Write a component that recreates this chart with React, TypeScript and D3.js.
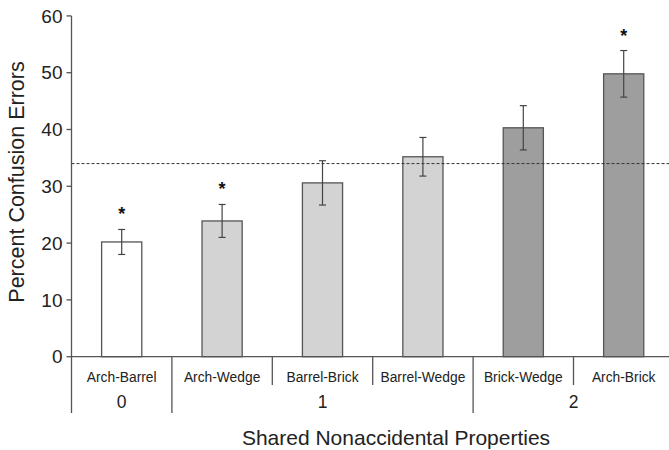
import React from "react";
import * as d3 from "d3";

// Object pairs and their confusion error rates
const categories = ["Arch-Barrel", "Arch-Wedge", "Barrel-Brick", "Barrel-Wedge", "Brick-Wedge", "Arch-Brick"];
const values = [20.2, 23.9, 30.6, 35.2, 40.3, 49.8];
const errors = [2.2, 2.9, 3.9, 3.4, 3.9, 4.1];
const shared = [0, 1, 1, 1, 2, 2];
const significant = [true, true, false, false, false, true];
const chanceLevel = 34;
const yTicks = [0, 10, 20, 30, 40, 50, 60];
const groups = [0, 1, 2];

const W = 669;
const H = 450;
const fillByGroup = ["#ffffff", "#d3d3d3", "#9e9e9e"];
const FONT = "'Liberation Sans', Arial, Helvetica, sans-serif";

export default function App() {
  const left = 71.5;
  const x = d3.scaleBand<string>().domain(categories).range([left, left + 6 * 100.4]).paddingInner(0.6).paddingOuter(0.3);
  const y = d3.scaleLinear().domain([0, 60]).range([356.7, 15.9]);
  const step = x.step();
  const y0 = y(0);
  const shortBottom = 385;
  const longBottom = 413;

  // boundaries between adjacent categories
  const boundaries = categories.slice(1).map((c, i) => ({
    x: (x(c) as number) - (step - x.bandwidth()) / 2,
    long: shared[i] !== shared[i + 1],
  }));

  const groupCenter = (g: number) => {
    const idx = categories.map((_, i) => i).filter((i) => shared[i] === g);
    const start = (x(categories[idx[0]]) as number) - (step - x.bandwidth()) / 2;
    const end = start + idx.length * step;
    return (start + end) / 2;
  };

  return (
    <svg width={W} height={H} style={{ position: "absolute", left: 0, top: 0, background: "#fff" }}>
      {/* y axis */}
      <line x1={left} x2={left} y1={y(60)} y2={longBottom} stroke="#555" strokeWidth={1.3} />
      {yTicks.map((t) => (
        <g key={t}>
          <line x1={left - 5} x2={left} y1={y(t)} y2={y(t)} stroke="#555" strokeWidth={1.3} />
          <text x={left - 9} y={y(t)} dy="0.35em" textAnchor="end" fontFamily={FONT} fontSize={19} fill="#222">
            {t}
          </text>
        </g>
      ))}
      <text
        transform={`translate(24,${182}) rotate(-90)`}
        textAnchor="middle"
        fontFamily={FONT}
        fontSize={21.5}
        fill="#222"
      >
        Percent Confusion Errors
      </text>

      {/* bars */}
      {categories.map((c, i) => (
        <rect
          key={c}
          x={x(c)}
          y={y(values[i])}
          width={x.bandwidth()}
          height={y0 - y(values[i])}
          fill={fillByGroup[shared[i]]}
          stroke="#555"
          strokeWidth={1.3}
        />
      ))}

      {/* chance level */}
      <line x1={left} x2={W} y1={y(chanceLevel)} y2={y(chanceLevel)} stroke="#333" strokeWidth={1} strokeDasharray="3,2" />

      {/* error bars and significance markers */}
      {categories.map((c, i) => {
        const cx = (x(c) as number) + x.bandwidth() / 2;
        const top = y(values[i] + errors[i]);
        const bot = y(values[i] - errors[i]);
        return (
          <g key={c}>
            <line x1={cx} x2={cx} y1={top} y2={bot} stroke="#444" strokeWidth={1.2} />
            <line x1={cx - 3.5} x2={cx + 3.5} y1={top} y2={top} stroke="#444" strokeWidth={1.2} />
            <line x1={cx - 3.5} x2={cx + 3.5} y1={bot} y2={bot} stroke="#444" strokeWidth={1.2} />
            {significant[i] && (
              <text x={cx} y={top - 9} textAnchor="middle" fontFamily={FONT} fontWeight="bold" fontSize={18} fill="#111">
                *
              </text>
            )}
          </g>
        );
      })}

      {/* x axis */}
      <line x1={left} x2={W} y1={y0} y2={y0} stroke="#555" strokeWidth={1.3} />
      {boundaries.map((b, i) => (
        <line key={i} x1={b.x} x2={b.x} y1={y0} y2={b.long ? longBottom : shortBottom} stroke="#555" strokeWidth={1.3} />
      ))}
      {categories.map((c) => (
        <text
          key={c}
          x={(x(c) as number) + x.bandwidth() / 2}
          y={377}
          dy="0.35em"
          textAnchor="middle"
          fontFamily={FONT}
          fontSize={13.8}
          fill="#222"
        >
          {c}
        </text>
      ))}
      {groups.map((g) => (
        <text key={g} x={groupCenter(g)} y={402} dy="0.35em" textAnchor="middle" fontFamily={FONT} fontSize={17.5} fill="#222">
          {g}
        </text>
      ))}
      <text x={396} y={438} dy="0.35em" textAnchor="middle" fontFamily={FONT} fontSize={21} fill="#222">
        Shared Nonaccidental Properties
      </text>
    </svg>
  );
}
